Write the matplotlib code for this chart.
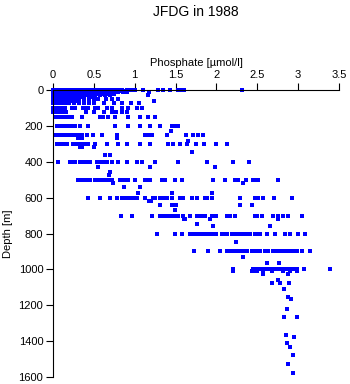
import matplotlib
matplotlib.use("Agg")
import matplotlib.pyplot as plt

# Depth levels [m] and phosphate values [umol/l] observed at each level
depths = [0, 5, 10, 15, 20, 25, 30, 40, 50, 60, 75, 100, 125, 150, 200, 230, 250, 270, 285, 300, 315,
          345, 360, 400, 430, 455, 475, 500, 520, 540, 575, 600, 620, 640, 670, 700, 720,
          745, 760, 800, 845, 900, 930, 965, 1000, 1010, 1025, 1060, 1075, 1110, 1155,
          1165, 1220, 1265, 1365, 1375, 1410, 1432, 1480, 1530, 1580]

phosphate = [
    [0.0, 0.02, 0.04, 0.06, 0.08, 0.1, 0.12, 0.14, 0.16, 0.18, 0.2, 0.22, 0.25, 0.28, 0.3, 0.33,
     0.36, 0.4, 0.45, 0.5, 0.55, 0.58, 0.62, 0.66, 0.7, 0.75, 0.8, 0.85, 0.9, 0.95, 1.0, 1.1,
     1.28, 1.35, 1.43, 1.53, 1.58, 1.6, 2.31],
    [0.0, 0.03, 0.06, 0.09, 0.12, 0.15, 0.19, 0.23, 0.27, 0.31, 0.36, 0.41, 0.47, 0.53, 0.6,
     0.64, 0.7, 0.77, 0.83, 0.88],
    [0.0, 0.03, 0.06, 0.09, 0.12, 0.15, 0.18, 0.21, 0.25, 0.3, 0.34, 0.38, 0.42, 0.47, 0.52,
     0.57, 0.62, 0.68, 0.74, 0.8, 0.86, 0.9, 1.17],
    [0.0, 0.03, 0.06, 0.09, 0.13, 0.17, 0.21, 0.25, 0.3, 0.35, 0.4, 0.45, 0.5, 0.56, 0.63,
     0.7],
    [0.0, 0.03, 0.06, 0.1, 0.13, 0.17, 0.2, 0.24, 0.28, 0.33, 0.38, 0.43, 0.48, 0.55, 0.6,
     0.66, 0.72, 0.75],
    [0.0, 0.03, 0.07, 0.11, 0.15, 0.19, 0.23, 0.28, 0.33, 0.37, 0.42, 0.5, 0.58],
    [0.0, 0.04, 0.08, 0.12, 0.16, 0.2, 0.25, 0.3, 0.35, 0.4, 0.46, 0.52, 0.58, 0.64, 0.7, 1.16],
    [0.0, 0.03, 0.07, 0.11, 0.15, 0.2, 0.26, 0.31, 0.36, 0.44, 0.48],
    [0.0, 0.04, 0.08, 0.12, 0.17, 0.22, 0.27, 0.32, 0.38, 0.44, 0.5, 0.55, 0.65, 0.72, 0.8],
    [0.0, 0.05, 0.1, 0.16, 0.22, 0.3, 1.24],
    [0.0, 0.05, 0.1, 0.15, 0.2, 0.26, 0.32, 0.38, 0.44, 0.5, 0.62, 0.75, 0.85, 0.95, 1.05],
    [0.0, 0.04, 0.08, 0.12, 0.15, 0.23, 0.27, 0.37, 0.4, 0.43, 0.51, 0.55, 0.66, 0.72, 0.84,
     0.92, 1.03, 1.09],
    [0.0, 0.04, 0.08, 0.12, 0.16, 0.4, 0.5, 0.63, 0.72, 0.77, 0.85, 0.9],
    [0.02, 0.06, 0.1, 0.14, 0.18, 0.23, 0.35, 0.58, 0.61, 0.67, 0.76, 0.92, 1.07, 1.16, 1.25],
    [0.05, 0.09, 0.13, 0.17, 0.21, 0.25, 0.27, 0.33, 0.43, 0.76, 0.92, 1.07, 1.19, 1.31, 1.46,
     1.49, 1.51, 1.53],
    [1.45],
    [0.02, 0.06, 0.1, 0.14, 0.18, 0.22, 0.26, 0.3, 0.33, 0.36, 0.42, 0.49, 0.6, 0.78, 1.13,
     1.17, 1.21, 1.4, 1.63, 1.71, 1.77, 1.84],
    [0.3, 0.35, 0.78],
    [1.65],
    [0.05, 0.09, 0.13, 0.17, 0.24, 0.28, 0.32, 0.36, 0.4, 0.43, 0.51, 0.66, 0.8, 0.9, 1.07,
     1.19, 1.41, 1.47, 1.55, 1.64, 1.75, 1.85, 2.0, 2.13],
    [0.33, 0.35, 0.5],
    [1.7],
    [0.64, 0.7],
    [0.06, 0.21, 0.24, 0.27, 0.33, 0.36, 0.39, 0.42, 0.45, 0.54, 0.58, 0.62, 0.66, 0.72, 0.8,
     0.9, 1.03, 1.09, 1.25, 1.53, 1.88, 2.2, 2.4],
    [0.55, 1.19, 1.98],
    [0.7],
    [0.68],
    [0.31, 0.35, 0.39, 0.43, 0.45, 0.51, 0.55, 0.6, 0.64, 0.68, 0.72, 0.82, 0.86, 0.88, 0.92,
     1.0, 1.13, 1.16, 1.19, 1.33, 1.37, 1.49, 1.58, 1.96, 2.1, 2.23, 2.26, 2.36, 2.45, 2.48,
     2.51, 2.75],
    [0.73, 2.33],
    [0.87, 1.07],
    [1.04, 1.46, 1.95],
    [0.43, 0.58, 0.7, 0.78, 0.84, 0.88, 0.92, 0.96, 1.0, 1.03, 1.13, 1.22, 1.25, 1.31, 1.35,
     1.4, 1.46, 1.55, 1.59, 1.7, 1.76, 1.86, 1.88, 1.95, 2.29, 2.47, 2.51, 2.57, 2.7, 2.93],
    [1.17, 1.2],
    [1.31, 1.46, 1.5, 2.29, 2.44],
    [1.49],
    [0.83, 0.97, 1.21, 1.31, 1.36, 1.41, 1.46, 1.5, 1.53, 1.59, 1.68, 1.76, 1.8, 1.83, 1.86,
     1.95, 2.0, 2.13, 2.17, 2.23, 2.47, 2.5, 2.56, 2.69, 2.75, 2.82, 2.88, 3.05],
    [1.6, 1.62, 1.92, 2.75],
    [1.76],
    [1.96, 2.66],
    [1.27, 1.49, 1.58, 1.68, 1.71, 1.76, 1.8, 1.84, 1.88, 1.92, 1.96, 2.0, 2.07, 2.1, 2.13,
     2.19, 2.23, 2.28, 2.33, 2.37, 2.41, 2.47, 2.5, 2.53, 2.62, 2.72, 2.84, 2.9, 3.0, 3.08],
    [2.24],
    [1.72, 1.9, 2.04, 2.13, 2.17, 2.2, 2.25, 2.29, 2.33, 2.37, 2.43, 2.47, 2.5, 2.53, 2.6,
     2.63, 2.69, 2.72, 2.75, 2.8, 2.84, 2.87, 2.9, 2.94, 2.99, 3.05, 3.14],
    [2.33],
    [2.62, 2.77],
    [2.2, 2.45, 2.49, 2.53, 2.57, 2.62, 2.66, 2.7, 2.74, 2.78, 2.82, 2.86, 2.9, 2.94, 2.99,
     3.07, 3.39],
    [2.2, 2.44, 2.47, 2.5, 2.57, 2.68, 2.82, 2.9, 2.99],
    [2.57, 2.88],
    [2.75],
    [2.68, 2.78, 2.89],
    [2.83],
    [2.87],
    [2.91],
    [2.86],
    [2.83, 2.99],
    [2.85],
    [2.95],
    [2.86],
    [2.9],
    [2.94],
    [2.87],
    [2.94],
]

x_ticks = [0, 0.5, 1, 1.5, 2, 2.5, 3, 3.5]
x_tick_labels = ["0", "0.5", "1", "1.5", "2", "2.5", "3", "3.5"]
y_ticks = [0, 200, 400, 600, 800, 1000, 1200, 1400, 1600]
y_tick_labels = ["0", "200", "400", "600", "800", "1000", "1200", "1400", "1600"]

plt.rcParams['font.family'] = ['Liberation Sans', 'DejaVu Sans']

fig = plt.figure(figsize=(3.5, 3.84), dpi=100)
ax = fig.add_axes([53 / 350, 1 - 377 / 384, (339 - 53) / 350, (377 - 90) / 384])

xs, ys = [], []
for d, vals in zip(depths, phosphate):
    for v in vals:
        xs.append(v)
        ys.append(d)
ax.plot(xs, ys, linestyle='none', marker='s', markersize=2.3, markeredgewidth=0,
        color='#0000ff', clip_on=False)

ax.set_xlim(0, 3.5)
ax.set_ylim(1600, 0)
ax.xaxis.tick_top()
ax.xaxis.set_label_position('top')
ax.set_xticks(x_ticks)
ax.set_xticklabels(x_tick_labels)
ax.set_yticks(y_ticks)
ax.set_yticklabels(y_tick_labels)
ax.tick_params(axis='both', direction='out', length=5, width=0.8, labelsize=8, pad=2)
for s in ['right', 'bottom']:
    ax.spines[s].set_visible(False)
for s in ['left', 'top']:
    ax.spines[s].set_linewidth(0.8)

ax.set_xlabel('Phosphate [µmol/l]', fontsize=8, labelpad=3)
ax.set_ylabel('Depth [m]', fontsize=8, labelpad=4)
fig.text(196 / 350, 1 - 12 / 384, 'JFDG in 1988', ha='center', va='center', fontsize=10)

fig.savefig('out.png', dpi=100)
